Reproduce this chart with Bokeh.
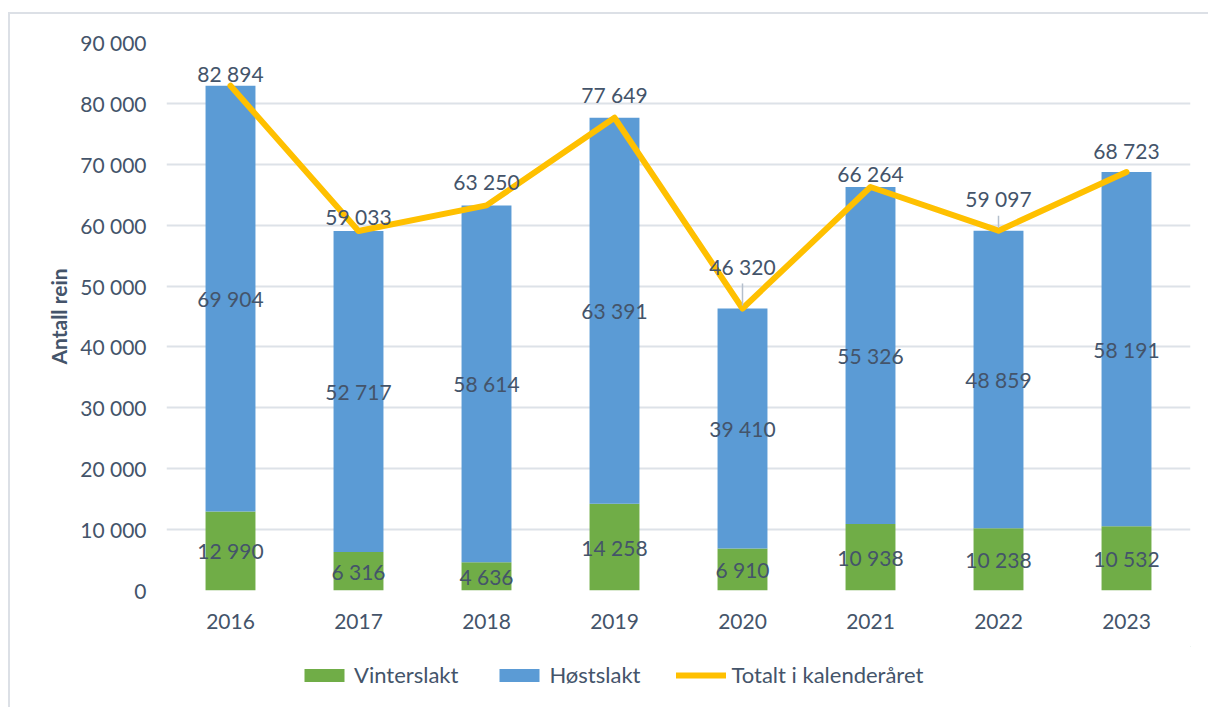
from bokeh.plotting import figure
from bokeh.layouts import column
from bokeh.models import (ColumnDataSource, FactorRange, Range1d, Legend, LegendItem,
                          FixedTicker)
from bokeh.core.properties import value
from bokeh.embed import file_html
from bokeh.resources import INLINE

# ---- data ----
years = ["2016", "2017", "2018", "2019", "2020", "2021", "2022", "2023"]
vinterslakt = [12990, 6316, 4636, 14258, 6910, 10938, 10238, 10532]
hostslakt = [69904, 52717, 58614, 63391, 39410, 55326, 48859, 58191]
totalt = [82894, 59033, 63250, 77649, 46320, 66264, 59097, 68723]
tick_values = [0, 10000, 20000, 30000, 40000, 50000, 60000, 70000, 80000, 90000]
tick_labels = ["0", "10 000", "20 000", "30 000", "40 000", "50 000",
               "60 000", "70 000", "80 000", "90 000"]
series_names = ["Vinterslakt", "Høstslakt", "Totalt i kalenderåret"]

# ---- styling ----
total_label_lift = [12, 15, 24, 23, 42, 14, 32, 22]  # px, label centre above the point
FONT = "Lato"
TXT = "#44546A"
GREEN = "#70AD47"
BLUE = "#5B9BD5"
YELLOW = "#FFC000"
GRID = "#DDE2E8"
Y_MAX = 90000
FRAME_W, FRAME_H = 1024, 548
CANVAS_W = 1198


def fmt(v):
    return f"{v:,}".replace(",", " ")


src = ColumnDataSource(dict(
    year=years,
    Vinterslakt=vinterslakt,
    Hostslakt=hostslakt,
    total=totalt,
    v_y=[v / 2 for v in vinterslakt],
    h_y=[v + h / 2 for v, h in zip(vinterslakt, hostslakt)],
    v_txt=[fmt(v) for v in vinterslakt],
    h_txt=[fmt(h) for h in hostslakt],
    t_txt=[fmt(t) for t in totalt],
    t_off=[-l for l in total_label_lift],
))

p = figure(x_range=FactorRange(factors=years, range_padding=0),
           y_range=Range1d(0, Y_MAX),
           frame_width=FRAME_W, frame_height=FRAME_H,
           min_border_left=156, min_border_right=CANVAS_W - 156 - FRAME_W,
           min_border_top=28, min_border_bottom=56,
           output_backend="svg", toolbar_location=None,
           outline_line_color=None)

bars = p.vbar_stack(["Vinterslakt", "Hostslakt"], x="year", width=0.39,
                    color=[GREEN, BLUE], line_color=None, source=src)

line = p.line(x="year", y="total", line_color=YELLOW, line_width=6,
              line_join="round", line_cap="round", source=src)

# leader lines for labels that were lifted far from their point
upp = Y_MAX / FRAME_H
lx, ly0, ly1 = [], [], []
for yr, t, l in zip(years, totalt, total_label_lift):
    if l > 30:
        lx.append(yr)
        ly0.append(t + 3 * upp)
        ly1.append(t + (l - 17) * upp)
p.segment(x0=lx, y0=ly0, x1=lx, y1=ly1, line_color="#B4BFCC", line_width=1.5)

common = dict(text_font=value(FONT), text_font_size="21px", text_color=TXT,
              text_align="center", text_baseline="middle", source=src)
p.text(x="year", y="v_y", text="v_txt", **common)
p.text(x="year", y="h_y", text="h_txt", **common)
p.text(x="year", y="total", text="t_txt", y_offset="t_off", **common)

# axes
p.xgrid.grid_line_color = None
p.ygrid.grid_line_color = GRID
p.ygrid.grid_line_width = 2
p.yaxis.ticker = FixedTicker(ticks=tick_values)
p.yaxis.major_label_overrides = dict(zip(tick_values, tick_labels))
for ax in (p.xaxis[0], p.yaxis[0]):
    ax.axis_line_color = None
    ax.major_tick_line_color = None
    ax.minor_tick_line_color = None
    ax.major_label_text_font = FONT
    ax.major_label_text_font_size = "21px"
    ax.major_label_text_color = TXT
p.yaxis.major_label_standoff = 14
p.xaxis.major_label_standoff = 17
p.yaxis.axis_label = "Antall rein"
p.yaxis.axis_label_text_font = FONT
p.yaxis.axis_label_text_font_size = "21px"
p.yaxis.axis_label_text_font_style = "bold"
p.yaxis.axis_label_text_color = TXT
p.yaxis.axis_label_standoff = 6

# ---- legend strip below the chart (swatch renderers sit outside its visible range) ----
lg = figure(width=CANVAS_W, height=61, min_border=0,
            x_range=Range1d(0, 1), y_range=Range1d(0, 1),
            output_backend="svg", toolbar_location=None,
            outline_line_color=None)
lg.axis.visible = False
lg.grid.visible = False
r1 = lg.vbar(x=[5], top=[5], bottom=[4], width=0.1, color=GREEN, line_color=None)
r2 = lg.vbar(x=[5], top=[5], bottom=[4], width=0.1, color=BLUE, line_color=None)
r3 = lg.line(x=[5, 6], y=[5, 5], line_color=YELLOW, line_width=6, line_cap="round")
legend = Legend(items=[LegendItem(label=series_names[0], renderers=[r1]),
                       LegendItem(label=series_names[1], renderers=[r2]),
                       LegendItem(label=series_names[2], renderers=[r3])],
                location=(133, 19), orientation="horizontal",
                glyph_width=50, glyph_height=16, label_standoff=5, spacing=36,
                padding=0, margin=0, border_line_color=None,
                background_fill_alpha=0,
                label_text_font=FONT, label_text_font_size="22px",
                label_text_color=TXT)
lg.add_layout(legend)

layout = column(p, lg, spacing=0,
                styles={"margin-left": "8px", "margin-top": "12px",
                        "border-left": "2px solid #DCE0E6",
                        "border-top": "2px solid #DCE0E6"})

open("out.html", "w").write(file_html(layout, INLINE))
